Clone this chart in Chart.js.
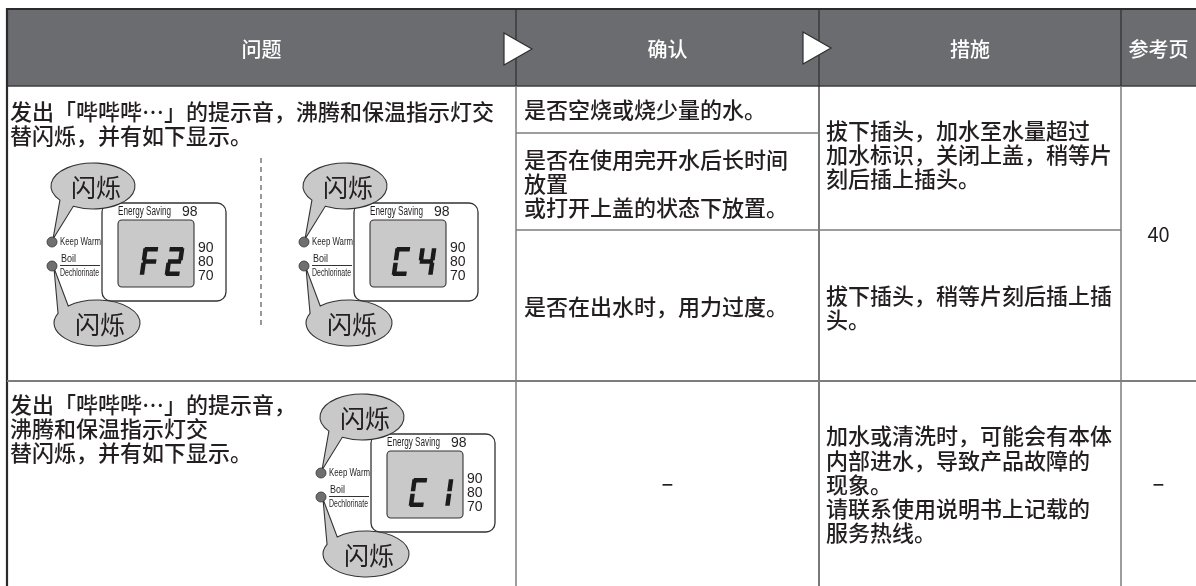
<!DOCTYPE html>
<html>
<head>
<meta charset="utf-8">
<script src="https://cdn.jsdelivr.net/npm/chart.js@4/dist/chart.umd.min.js"></script>
<style>
  html, body { margin: 0; padding: 0; background: #ffffff; }
  #wrap { width: 1196px; height: 586px; }
</style>
</head>
<body>
<div id="wrap"><canvas id="c" width="1196" height="586"></canvas></div>
<script>
// ---------------- data (content) ----------------
const headers = ['问题', '确认', '措施', '参考页'];
const problem1 = ['发出「哔哔哔…」的提示音，沸腾和保温指示灯交', '替闪烁，并有如下显示。'];
const problem2 = ['发出「哔哔哔…」的提示音，', '沸腾和保温指示灯交', '替闪烁，并有如下显示。'];
const checks1 = [
  ['是否空烧或烧少量的水。'],
  ['是否在使用完开水后长时间', '放置', '或打开上盖的状态下放置。'],
  ['是否在出水时，用力过度。']
];
const checks2 = ['–'];
const remedies1 = [
  ['拔下插头，加水至水量超过', '加水标识，关闭上盖，稍等片', '刻后插上插头。'],
  ['拔下插头，稍等片刻后插上插', '头。']
];
const remedies2 = ['加水或清洗时，可能会有本体', '内部进水，导致产品故障的', '现象。', '请联系使用说明书上记载的', '服务热线。'];
const pages = ['40', '–'];
const displayCodes = ['F2', 'C4', 'C1'];
const flashLabel = '闪烁';
const panelLabels = ['Energy Saving', '98', 'Keep Warm', 'Boil', 'Dechlorinate'];
const tempLabels = ['90', '80', '70'];

// ---------------- layout (positions / styles) ----------------
const W = 1196, H = 586;
const COLS = [7, 516, 819, 1121, 1196];
const HEAD_TOP = 9, HEAD_BOTTOM = 86, ROW_SPLIT = 381, BOTTOM = 586;
const CHECK_SPLITS = [133, 230];
const CJK = '"Noto Sans CJK SC", "Noto Sans", sans-serif';
const TEXT_COLOR = '#231f20';
const GRID = '#7d7d7d';
const DARK = '#2b2b2b';
const SEGMAP = { 'F': 'afeg', '2': 'abged', 'C': 'afed', '4': 'fgbc', '1': 'bc' };
const displayOffsets = [[0, 0], [252, 0], [269, 231]];

const tablePlugin = {
  id: 'tablePlugin',
  beforeDraw(chart) {
    const ctx = chart.ctx;
    ctx.save();
    ctx.fillStyle = '#ffffff';
    ctx.fillRect(0, 0, chart.width, chart.height);
    ctx.restore();
  },
  afterDraw(chart) {
    const ctx = chart.ctx;
    const xs = chart.scales.x, ys = chart.scales.y;
    const X = v => xs.getPixelForValue(v);
    const Y = v => ys.getPixelForValue(v);

    function line(x1, y1, x2, y2, color, width, dash) {
      ctx.save();
      ctx.strokeStyle = color; ctx.lineWidth = width;
      if (dash) ctx.setLineDash(dash);
      ctx.beginPath(); ctx.moveTo(X(x1), Y(y1)); ctx.lineTo(X(x2), Y(y2)); ctx.stroke();
      ctx.restore();
    }
    function text(s, x, y, font, color, align) {
      ctx.save();
      ctx.font = font; ctx.fillStyle = color || TEXT_COLOR;
      ctx.textAlign = align || 'left'; ctx.textBaseline = 'middle';
      ctx.fillText(s, X(x), Y(y));
      ctx.restore();
    }
    function lines(arr, x, y0, lh, font, align) {
      arr.forEach((s, i) => text(s, x, y0 + i * lh, font, TEXT_COLOR, align));
    }
    function fitText(s, x, y, size, width, family) {
      ctx.save();
      ctx.font = size + 'px ' + (family || '"Liberation Sans", sans-serif');
      ctx.fillStyle = TEXT_COLOR; ctx.textBaseline = 'middle'; ctx.textAlign = 'left';
      const m = ctx.measureText(s).width;
      ctx.translate(X(x), Y(y));
      ctx.scale(width / m, 1);
      ctx.fillText(s, 0, 0);
      ctx.restore();
    }
    function roundRect(x1, y1, x2, y2, r, fill, stroke, lw) {
      ctx.save();
      ctx.beginPath();
      ctx.roundRect(X(x1), Y(y1), X(x2) - X(x1), Y(y2) - Y(y1), r);
      if (fill) { ctx.fillStyle = fill; ctx.fill(); }
      if (stroke) { ctx.strokeStyle = stroke; ctx.lineWidth = lw; ctx.stroke(); }
      ctx.restore();
    }
    function bubble(cx, cy, rx, ry, a1, a2, tx, ty) {
      ctx.save();
      ctx.beginPath();
      ctx.ellipse(X(cx), Y(cy), rx, ry, 0, a2 * Math.PI / 180, (a1 + 360) * Math.PI / 180);
      ctx.lineTo(X(tx), Y(ty));
      ctx.closePath();
      ctx.fillStyle = '#c9c9ca'; ctx.fill();
      ctx.strokeStyle = '#333333'; ctx.lineWidth = 1.1; ctx.stroke();
      ctx.restore();
      text(flashLabel, cx + 3, cy + 1, '25px ' + CJK, TEXT_COLOR, 'center');
    }
    function dot(x, y) {
      ctx.save();
      ctx.beginPath(); ctx.arc(X(x), Y(y), 5, 0, Math.PI * 2);
      ctx.fillStyle = '#6f6f70'; ctx.fill();
      ctx.strokeStyle = '#333'; ctx.lineWidth = 0.8; ctx.stroke();
      ctx.restore();
    }
    function segChar(ch, x, yb, w, h, t, k) {
      ctx.save();
      ctx.translate(X(x), Y(yb));
      ctx.transform(1, 0, -k, 1, 0, 0);
      ctx.strokeStyle = '#1b1b1b'; ctx.lineWidth = t; ctx.lineCap = 'butt';
      const g = 1.3, hh = h / 2;
      const P = {
        a: [[g, -h + t / 2], [w - g, -h + t / 2]],
        b: [[w - t / 2, -h + g], [w - t / 2, -hh - g]],
        c: [[w - t / 2, -hh + g], [w - t / 2, -g]],
        d: [[g, -t / 2], [w - g, -t / 2]],
        e: [[t / 2, -hh + g], [t / 2, -g]],
        f: [[t / 2, -h + g], [t / 2, -hh - g]],
        g: [[g, -hh], [w - g, -hh]]
      };
      for (const s of SEGMAP[ch]) {
        const p = P[s];
        ctx.beginPath(); ctx.moveTo(p[0][0], p[0][1]); ctx.lineTo(p[1][0], p[1][1]); ctx.stroke();
      }
      ctx.restore();
    }
    function display(code, ox, oy) {
      // panel
      roundRect(102 + ox, 203 + oy, 226 + ox, 301 + oy, 9, '#ffffff', '#333333', 1.3);
      // lcd
      roundRect(118 + ox, 220 + oy, 194 + ox, 287 + oy, 4, '#c9c9ca', '#333333', 1.1);
      fitText(panelLabels[0], 118 + ox, 212 + oy, 12, 53);
      text(panelLabels[1], 182 + ox, 212 + oy, '14px "Liberation Sans", sans-serif', TEXT_COLOR, 'left');
      tempLabels.forEach((s, i) => text(s, 198 + ox, 248 + i * 14 + oy, '14px "Liberation Sans", sans-serif', TEXT_COLOR, 'left'));
      // digits
      const w = 16, gap = 9, h = 29;
      const total = w * 2 + gap;
      const x0 = 162 - total / 2 - 2;
      code.split('').forEach((ch, i) => segChar(ch, x0 + i * (w + gap) + ox, 276 + oy, w, h, 4.5, 0.14));
      // labels
      fitText(panelLabels[2], 60 + ox, 242 + oy, 10.5, 41);
      fitText(panelLabels[3], 61 + ox, 259 + oy, 10.5, 15);
      line(60 + ox, 265.5 + oy, 100 + ox, 265.5 + oy, '#333', 1);
      fitText(panelLabels[4], 60 + ox, 273 + oy, 10, 39);
      // bubbles
      bubble(93 + ox, 186 + oy, 42, 23, 118, 142, 53 + ox, 239 + oy);
      bubble(97 + ox, 323 + oy, 43, 23, 205, 228, 54 + ox, 268 + oy);
      dot(52 + ox, 242 + oy);
      dot(52 + ox, 266 + oy);
    }

    // ---- header ----
    ctx.save();
    ctx.fillStyle = '#6b6c70';
    ctx.fillRect(X(COLS[0]), Y(HEAD_TOP), X(W) - X(COLS[0]), Y(HEAD_BOTTOM) - Y(HEAD_TOP));
    ctx.restore();
    line(COLS[0], HEAD_TOP, W, HEAD_TOP, DARK, 2.2);
    line(COLS[0], HEAD_BOTTOM, W, HEAD_BOTTOM, '#3e3e40', 1.6);
    for (let i = 1; i < 4; i++) line(COLS[i], HEAD_TOP, COLS[i], HEAD_BOTTOM, '#2e2e30', 1.2);
    headers.forEach((h, i) => {
      text(h, (COLS[i] + COLS[i + 1]) / 2, 49, '500 20px ' + CJK, '#ffffff', 'center');
    });
    // header arrows
    [[504, 33, 532, 49, 65], [803, 32, 831, 48, 64]].forEach(a => {
      ctx.save();
      ctx.beginPath();
      ctx.moveTo(X(a[0]), Y(a[1])); ctx.lineTo(X(a[2]), Y(a[3])); ctx.lineTo(X(a[0]), Y(a[4])); ctx.closePath();
      ctx.fillStyle = '#ffffff'; ctx.fill();
      ctx.strokeStyle = '#2e2e30'; ctx.lineWidth = 1.2; ctx.stroke();
      ctx.restore();
    });

    // ---- body grid ----
    line(COLS[0], HEAD_TOP - 1, COLS[0], BOTTOM, DARK, 2.2);
    line(COLS[1], HEAD_BOTTOM, COLS[1], BOTTOM, GRID, 1.5);
    line(COLS[2], HEAD_BOTTOM, COLS[2], BOTTOM, '#1e1e1e', 1.2);
    line(COLS[3], HEAD_BOTTOM, COLS[3], BOTTOM, GRID, 1.5);
    line(COLS[1], CHECK_SPLITS[0], COLS[2], CHECK_SPLITS[0], GRID, 1.5);
    line(COLS[1], CHECK_SPLITS[1], COLS[3], CHECK_SPLITS[1], GRID, 1.5);
    line(COLS[0], ROW_SPLIT, W, ROW_SPLIT, GRID, 2);
    line(261, 158, 261, 328, '#333', 1, [5, 4]);

    // ---- body text ----
    const F = '500 22px ' + CJK;
    lines(problem1, 10, 112, 23.5, F);
    lines(checks1[0], 524, 110, 24, F);
    lines(checks1[1], 524, 160, 24, F);
    lines(checks1[2], 524, 307, 24, F);
    lines(remedies1[0], 826, 131, 24, F);
    lines(remedies1[1], 826, 296, 24, F);
    text(pages[0], (COLS[3] + COLS[4]) / 2, 234, '20px ' + CJK, TEXT_COLOR, 'center');

    lines(problem2, 10, 405, 23.8, F);
    text(checks2[0], (COLS[1] + COLS[2]) / 2, 483, F, TEXT_COLOR, 'center');
    lines(remedies2, 826, 436, 24.2, F);
    text(pages[1], (COLS[3] + COLS[4]) / 2, 483, F, TEXT_COLOR, 'center');

    // ---- display illustrations ----
    displayCodes.forEach((code, i) => display(code, displayOffsets[i][0], displayOffsets[i][1]));
  }
};

new Chart(document.getElementById('c'), {
  type: 'scatter',
  data: { datasets: [] },
  options: {
    responsive: false,
    animation: false,
    events: [],
    layout: { padding: 0 },
    plugins: { legend: { display: false }, tooltip: { enabled: false }, title: { display: false } },
    scales: {
      x: { type: 'linear', min: 0, max: W, display: false },
      y: { type: 'linear', min: 0, max: H, reverse: true, display: false }
    }
  },
  plugins: [tablePlugin]
});
</script>
</body>
</html>
